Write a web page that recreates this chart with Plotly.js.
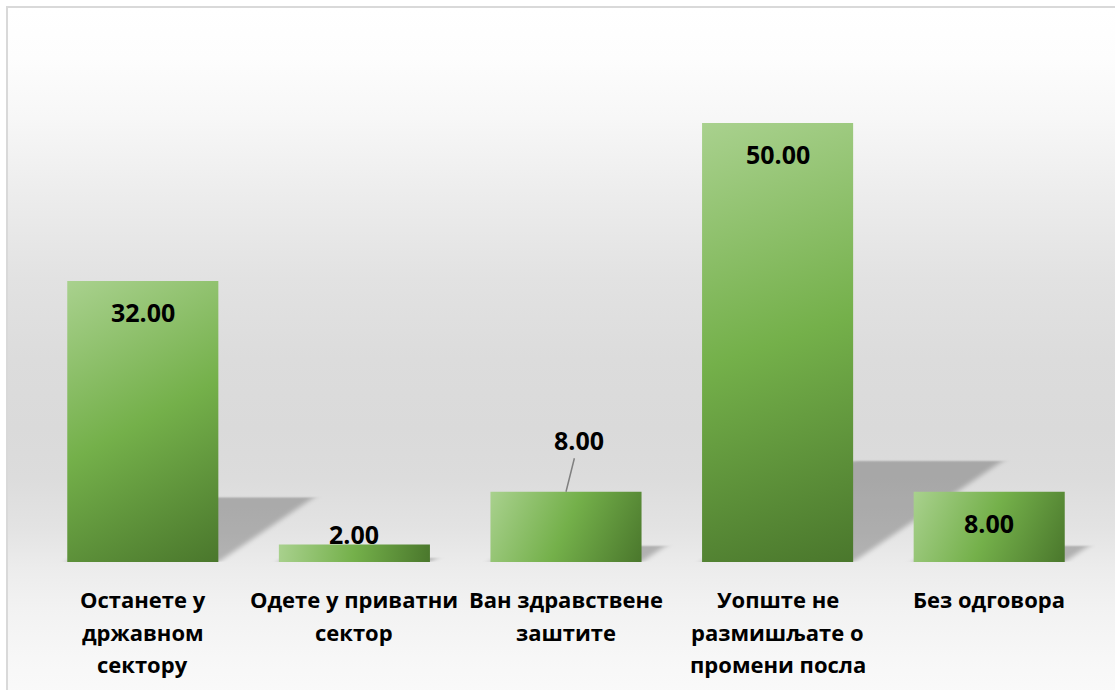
<!DOCTYPE html>
<html>
<head>
<meta charset="utf-8">
<script src="https://cdn.plot.ly/plotly-3.0.1.min.js"></script>
<style>
  html, body { margin: 0; padding: 0; width: 1115px; height: 690px; overflow: hidden; background: #ffffff; }
  #frame {
    position: absolute; left: 6px; top: 6px; width: 1120px; height: 700px;
    border-left: 2px solid #d9d9d9; border-top: 2px solid #d9d9d9;
    background: linear-gradient(to bottom,
      #ffffff 0px, #fdfdfd 50px, #f7f7f7 110px, #ececec 190px, #e2e2e2 270px,
      #dcdcdc 350px, #dadada 420px, #dcdcdc 470px, #e3e3e3 520px, #ececec 560px,
      #f2f2f2 600px, #f7f7f7 650px, #fafafa 690px);
  }
  #chart { position: absolute; left: 0; top: 0; width: 1115px; height: 690px; }
</style>
</head>
<body>
<div id="frame"></div>
<div id="chart"></div>
<script>
// ---- data ----
const categories = [
  "Останете у<br>државном<br>сектору",
  "Одете у приватни<br>сектор",
  "Ван здравствене<br>заштите",
  "Уопште не<br>размишљате о<br>промени посла",
  "Без одговора"
];
const values = [32, 2, 8, 50, 8];
const valueLabels = ["32.00", "2.00", "8.00", "50.00", "8.00"];
// label placement per bar: inside-end, above, leader, inside-end, inside-end
const labelModes = ["inside", "above", "leader", "inside", "inside"];

const labelFont = { family: "Open Sans, Liberation Sans, sans-serif", size: 25, color: "#000000", weight: 700 };
const catFont = { family: "Open Sans, Liberation Sans, sans-serif", size: 22, color: "#000000", weight: 700 };

const annotations = values.map((v, i) => {
  const base = { x: categories[i], y: v, xref: "x", yref: "y", text: valueLabels[i], font: labelFont, showarrow: false };
  if (labelModes[i] === "inside") {
    return Object.assign(base, { yanchor: "middle", yshift: -31 });
  } else if (labelModes[i] === "above") {
    return Object.assign(base, { yanchor: "middle", yshift: 10 });
  } else {
    return Object.assign(base, { showarrow: true, arrowhead: 0, arrowwidth: 1.5, arrowcolor: "#808080", ax: 13, ay: -52, standoff: 0 });
  }
});

// category labels, one annotation per line (for Excel-like line spacing)
categories.forEach(c => {
  c.split("<br>").forEach((line, k) => {
    annotations.push({
      x: c, y: 0, xref: "x", yref: "y", text: line, font: catFont, showarrow: false,
      yanchor: "middle", yshift: -(37 + 32.5 * k)
    });
  });
});

const trace = {
  type: "bar",
  x: categories,
  y: values,
  marker: { color: "#70ad47", line: { width: 0 } },
  hoverinfo: "none"
};

const layout = {
  width: 1115, height: 690,
  margin: { l: 37, r: 20, t: 20, b: 128, pad: 0 },
  paper_bgcolor: "rgba(0,0,0,0)",
  plot_bgcolor: "rgba(0,0,0,0)",
  bargap: 0.286,
  showlegend: false,
  xaxis: {
    type: "category", showgrid: false, zeroline: false, showline: false, ticks: "",
    showticklabels: false, automargin: false
  },
  yaxis: { visible: false, range: [0, 61.73], fixedrange: true },
  annotations: annotations
};

const SVGNS = "http://www.w3.org/2000/svg";
Plotly.newPlot("chart", [trace], layout, { staticPlot: true, displayModeBar: false }).then(gd => {
  const svg = gd.querySelector("svg.main-svg");
  let defs = svg.querySelector("defs");
  if (!defs) { defs = document.createElementNS(SVGNS, "defs"); svg.insertBefore(defs, svg.firstChild); }

  const filt = document.createElementNS(SVGNS, "filter");
  filt.setAttribute("id", "shBlur");
  filt.setAttribute("x", "-30%"); filt.setAttribute("y", "-30%");
  filt.setAttribute("width", "160%"); filt.setAttribute("height", "160%");
  const blur = document.createElementNS(SVGNS, "feGaussianBlur");
  blur.setAttribute("stdDeviation", "4.5");
  filt.appendChild(blur);
  defs.appendChild(filt);

  const paths = gd.querySelectorAll(".barlayer .point path");
  paths.forEach((p, i) => {
    const bb = p.getBBox();
    const yb = bb.y + bb.height;

    // per-bar gradient from top-left to bottom-right corner in user space
    const grad = document.createElementNS(SVGNS, "linearGradient");
    grad.setAttribute("id", "barGrad" + i);
    grad.setAttribute("gradientUnits", "userSpaceOnUse");
    grad.setAttribute("x1", bb.x); grad.setAttribute("y1", bb.y);
    grad.setAttribute("x2", bb.x + bb.width); grad.setAttribute("y2", yb);
    [["0", "#a9d18e"], ["0.5", "#74b04a"], ["1", "#4a772c"]].forEach(([o, c]) => {
      const s = document.createElementNS(SVGNS, "stop");
      s.setAttribute("offset", o); s.setAttribute("stop-color", c);
      grad.appendChild(s);
    });
    defs.appendChild(grad);

    const a = 0.34, s = 0.23;
    const sh = p.cloneNode(true);
    sh.setAttribute("transform", `matrix(1,0,${-a},${s},${a * yb},${yb * (1 - s)})`);
    sh.style.fill = "#000000";
    sh.style.fillOpacity = "0.24";
    sh.style.stroke = "none";
    sh.setAttribute("filter", "url(#shBlur)");
    p.parentNode.insertBefore(sh, p.parentNode.firstChild);
    p.style.fill = "url(#barGrad" + i + ")";
  });
});
</script>
</body>
</html>
